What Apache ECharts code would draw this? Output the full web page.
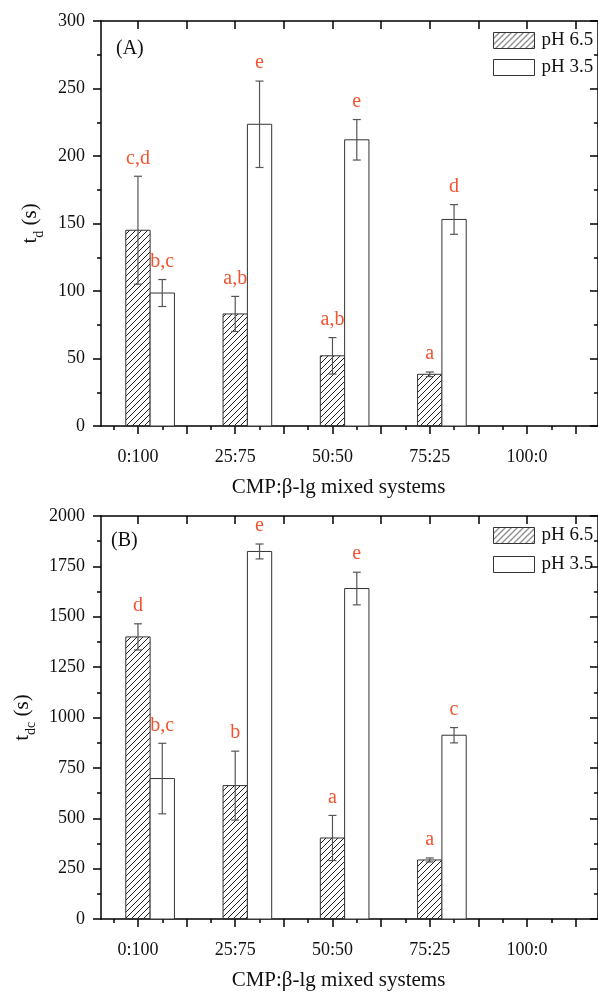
<!DOCTYPE html>
<html>
<head>
<meta charset="utf-8">
<title>CMP:β-lg mixed systems</title>
<script src="https://cdn.jsdelivr.net/npm/echarts@6/dist/echarts.min.js"></script>
<style>
  html, body { margin: 0; padding: 0; background: #fff; }
  #chart { width: 598px; height: 992px; }
</style>
</head>
<body>
<div id="chart"></div>
<script>
// categories on the x axis
const categories = ['0:100', '25:75', '50:50', '75:25', '100:0']

// (A) t_d in s
const tdPH65 = [145, 83, 52, 38.3]
const tdPH65Err = [40, 13, 13.5, 1.7]
const tdPH65Sig = ['c,d', 'a,b', 'a,b', 'a']
const tdPH35 = [98.5, 223.5, 212, 153]
const tdPH35Err = [10, 32, 15, 11]
const tdPH35Sig = ['b,c', 'e', 'e', 'd']

// (B) t_dc in s
const tdcPH65 = [1400, 662, 402, 293]
const tdcPH65Err = [65, 171, 112, 10]
const tdcPH65Sig = ['d', 'b', 'a', 'a']
const tdcPH35 = [697, 1824, 1640, 912]
const tdcPH35Err = [175, 37, 81, 38]
const tdcPH35Sig = ['b,c', 'e', 'e', 'c']

const FONT = '"Liberation Serif", "Times New Roman", serif'
const SIG_COLOR = '#f25430'
const BAR_HALF = 0.125
const X_MIN = 0.62
const X_MAX = 5.73
const majorX = [1, 1.5, 2, 2.5, 3, 3.5, 4, 4.5, 5, 5.5]
const minorX = [0.75, 1.25, 1.75, 2.25, 2.75, 3.25, 3.75, 4.25, 4.75, 5.25]

function makeHatch() {
  const c = document.createElement('canvas')
  c.width = 6
  c.height = 6
  const g = c.getContext('2d')
  g.strokeStyle = '#222'
  g.lineWidth = 1
  g.beginPath()
  g.moveTo(0, 6); g.lineTo(6, 0)
  g.moveTo(-1, 1); g.lineTo(1, -1)
  g.moveTo(5, 7); g.lineTo(7, 5)
  g.stroke()
  return { image: c, repeat: 'repeat' }
}
const hatch = makeHatch()

function barRenderer(sigs, fill) {
  return function (params, api) {
    const i = params.dataIndex
    const x = api.value(0)
    const v = api.value(1)
    const e = api.value(2)
    const lb = api.coord([x - BAR_HALF, 0])
    const rt = api.coord([x + BAR_HALF, v])
    const top = api.coord([x, v + e])
    const bot = api.coord([x, v - e])
    const errStyle = { stroke: '#555', lineWidth: 1.2 }
    return {
      type: 'group',
      children: [
        { type: 'rect', shape: { x: lb[0], y: rt[1], width: rt[0] - lb[0], height: lb[1] - rt[1] },
          style: { fill: fill, stroke: '#333', lineWidth: 1 } },
        { type: 'line', shape: { x1: top[0], y1: top[1], x2: bot[0], y2: bot[1] }, style: errStyle },
        { type: 'line', shape: { x1: top[0] - 4, y1: top[1], x2: top[0] + 4, y2: top[1] }, style: errStyle },
        { type: 'line', shape: { x1: bot[0] - 4, y1: bot[1], x2: bot[0] + 4, y2: bot[1] }, style: errStyle },
        { type: 'text', x: top[0], y: top[1] - 8,
          style: { text: sigs[i], fill: SIG_COLOR, font: '20px ' + FONT, align: 'center', verticalAlign: 'bottom' } }
      ]
    }
  }
}

function points(values, errs, offset) {
  return values.map((v, i) => [i + 1 + offset, v, errs[i]])
}

const axisLine = { show: true, onZero: false, lineStyle: { color: '#000', width: 1.5 } }
const tickLine = { color: '#000', width: 1.5 }

function xAxes(grid) {
  return [
    { gridIndex: grid, type: 'value', position: 'bottom', min: X_MIN, max: X_MAX,
      axisLine: axisLine, splitLine: { show: false },
      axisTick: { show: true, customValues: majorX, length: 8, lineStyle: tickLine },
      axisLabel: { customValues: [1, 2, 3, 4, 5], margin: 22, fontFamily: FONT, fontSize: 18, color: '#111',
        formatter: v => categories[Math.round(v) - 1] },
      name: 'CMP:β-lg mixed systems', nameLocation: 'middle', nameGap: 51,
      nameTextStyle: { fontFamily: FONT, fontSize: 21, color: '#111', padding: [0, 22, 0, 0] } },
    { gridIndex: grid, type: 'value', position: 'bottom', min: X_MIN, max: X_MAX,
      axisLine: { show: false }, splitLine: { show: false }, axisLabel: { show: false },
      axisTick: { show: true, customValues: minorX, length: 4, lineStyle: tickLine } },
    { gridIndex: grid, type: 'value', position: 'top', min: X_MIN, max: X_MAX,
      axisLine: axisLine, splitLine: { show: false }, axisLabel: { show: false },
      axisTick: { show: true, inside: true, customValues: majorX, length: 8, lineStyle: tickLine } },
    { gridIndex: grid, type: 'value', position: 'top', min: X_MIN, max: X_MAX,
      axisLine: { show: false }, splitLine: { show: false }, axisLabel: { show: false },
      axisTick: { show: true, inside: true, customValues: minorX, length: 4, lineStyle: tickLine } }
  ]
}

function yAxes(grid, max, interval, name, gap) {
  const minor = { show: true, splitNumber: 2, length: 4, lineStyle: tickLine }
  return [
    { gridIndex: grid, type: 'value', position: 'left', min: 0, max: max, interval: interval,
      axisLine: axisLine, splitLine: { show: false },
      axisTick: { show: true, length: 8, lineStyle: tickLine }, minorTick: minor,
      axisLabel: { margin: 16, fontFamily: FONT, fontSize: 18, color: '#111', formatter: v => String(v) },
      name: name, nameLocation: 'middle', nameRotate: 90, nameGap: gap,
      nameTextStyle: {
        fontFamily: FONT, fontSize: 21, color: '#111',
        rich: {
          t: { fontFamily: FONT, fontSize: 21, lineHeight: 21, color: '#111', verticalAlign: 'top' },
          sub: { fontFamily: FONT, fontSize: 14, lineHeight: 14, color: '#111', verticalAlign: 'top', padding: [12, 0, 0, 0] }
        }
      } },
    { gridIndex: grid, type: 'value', position: 'right', min: 0, max: max, interval: interval,
      axisLine: axisLine, splitLine: { show: false }, axisLabel: { show: false },
      axisTick: { show: true, inside: true, length: 8, lineStyle: tickLine },
      minorTick: minor }
  ]
}

function legend(top, gap) {
  return {
    orient: 'vertical', left: 493, top: top, padding: 0, itemWidth: 41, itemHeight: 16, itemGap: gap,
    selectedMode: false,
    textStyle: { fontFamily: FONT, fontSize: 19, color: '#111', lineHeight: 16, padding: [0, 0, 0, 2] },
    data: [
      { name: 'pH 6.5', icon: 'rect', itemStyle: { color: hatch, borderColor: '#333', borderWidth: 1 } },
      { name: 'pH 3.5', icon: 'rect', itemStyle: { color: '#fff', borderColor: '#333', borderWidth: 1 } }
    ]
  }
}

function barSeries(name, xi, yi, values, errs, sigs, offset, fill) {
  return {
    name: name, type: 'custom', xAxisIndex: xi, yAxisIndex: yi,
    encode: { x: 0, y: 1 },
    itemStyle: { color: fill, borderColor: '#333', borderWidth: 1 },
    renderItem: barRenderer(sigs, fill),
    data: points(values, errs, offset)
  }
}

const chart = echarts.init(document.getElementById('chart'))
chart.setOption({
  animation: false,
  backgroundColor: '#fff',
  grid: [
    { left: 101, top: 21, width: 500, height: 405 },
    { left: 101, top: 516, width: 500, height: 404 }
  ],
  xAxis: xAxes(0).concat(xAxes(1)),
  yAxis: yAxes(0, 300, 50, '{t|t}{sub|d}{t| (s)}', 60)
    .concat(yAxes(1, 2000, 250, '{t|t}{sub|dc}{t| (s)}', 65)),
  legend: [legend(31, 8), legend(526, 10)],
  graphic: [
    { type: 'text', left: 116, top: 39, style: { text: '(A)', font: '20px ' + FONT, fill: '#111' } },
    { type: 'text', left: 111, top: 531, style: { text: '(B)', font: '20px ' + FONT, fill: '#111' } }
  ],
  series: [
    barSeries('pH 6.5', 0, 0, tdPH65, tdPH65Err, tdPH65Sig, 0, hatch),
    barSeries('pH 3.5', 0, 0, tdPH35, tdPH35Err, tdPH35Sig, 0.25, '#fff'),
    barSeries('pH 6.5', 4, 2, tdcPH65, tdcPH65Err, tdcPH65Sig, 0, hatch),
    barSeries('pH 3.5', 4, 2, tdcPH35, tdcPH35Err, tdcPH35Sig, 0.25, '#fff')
  ]
})
</script>
</body>
</html>
